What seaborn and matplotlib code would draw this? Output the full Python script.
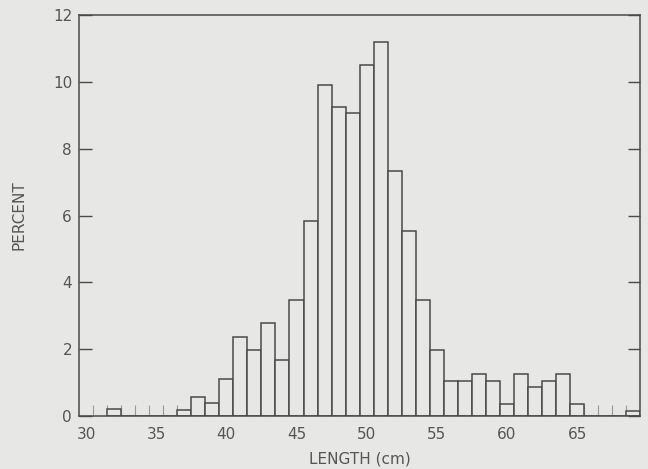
import numpy as np
import pandas as pd
import seaborn as sb
from matplotlib import pyplot as plt
from matplotlib.ticker import FixedLocator

# length classes (cm) and percent of fish in each class
lengths = [32, 37, 38, 39, 40, 41, 42, 43, 44, 45, 46, 47, 48, 49, 50,
           51, 52, 53, 54, 55, 56, 57, 58, 59, 60, 61, 62, 63, 64, 65, 69]
percent = [0.2, 0.18, 0.58, 0.4, 1.1, 2.37, 1.97, 2.77, 1.68, 3.47, 5.84,
           9.92, 9.24, 9.06, 10.5, 11.2, 7.33, 5.54, 3.47, 1.97, 1.06, 1.06,
           1.26, 1.06, 0.36, 1.26, 0.88, 1.06, 1.26, 0.36, 0.16]

x_ticks = [30, 35, 40, 45, 50, 55, 60, 65]
y_ticks = [0, 2, 4, 6, 8, 10, 12]

bg = '#e7e7e5'
ink = '#4a4a4a'
text_ink = '#555555'

data_frame = pd.DataFrame({'length': lengths, 'percent': percent})

sb.set_style('ticks')
plt.rcParams['font.family'] = ['DejaVu Sans']

fig = plt.figure(figsize=(6.48, 4.69), dpi=100, facecolor=bg)
ax = fig.add_axes([0.122, 0.113, 0.866, 0.855])
ax.set_facecolor(bg)

# outlined bars, one per 1 cm class
sb.histplot(data=data_frame, x='length', weights='percent', discrete=True,
            fill=True, color=bg, edgecolor=ink, linewidth=1.1, alpha=1,
            ax=ax)

ax.set_xlim(29.5, 69.5)
ax.set_ylim(0, 12)

ax.xaxis.set_major_locator(FixedLocator(x_ticks))
ax.xaxis.set_minor_locator(FixedLocator(np.arange(30.5, 69.0, 1)))
ax.yaxis.set_major_locator(FixedLocator(y_ticks))

ax.tick_params(axis='x', which='major', length=0, pad=8, labelsize=11,
               colors=text_ink)
ax.tick_params(axis='x', which='minor', direction='in', length=8,
               width=0.8, color='#9a9a9a')
ax.tick_params(axis='y', which='major', direction='in', length=9,
               width=1.0, left=True, right=True, labelsize=11,
               colors=ink, labelcolor=text_ink, pad=5)

for side in ['top', 'right', 'left', 'bottom']:
    ax.spines[side].set_visible(True)
    ax.spines[side].set_color(ink)
    ax.spines[side].set_linewidth(1.1)

ax.set_xlabel('LENGTH (cm)', fontsize=11, color=text_ink, labelpad=7)
ax.set_ylabel('PERCENT', fontsize=11, color=text_ink, labelpad=19)

plt.savefig('out.png', dpi=100, facecolor=bg)
